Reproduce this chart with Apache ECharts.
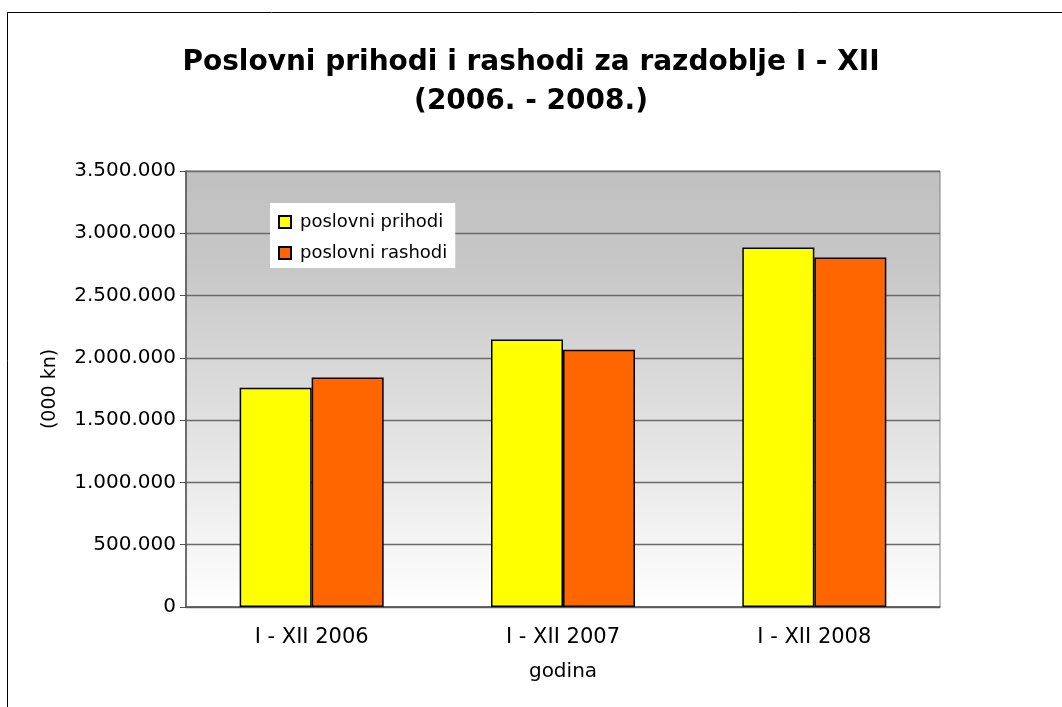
<!DOCTYPE html>
<html>
<head>
<meta charset="utf-8">
<script src="https://cdn.jsdelivr.net/npm/echarts@6/dist/echarts.min.js"></script>
<style>
  html, body { margin: 0; padding: 0; background: #fff; }
  #main { width: 1062px; height: 707px; }
</style>
</head>
<body>
<div id="main"></div>
<script>
// data
var categories = ['I - XII 2006', 'I - XII 2007', 'I - XII 2008'];
var prihodi = [1761000, 2147000, 2885000];
var rashodi = [1842000, 2066000, 2805000];
var seriesNames = ['poslovni prihodi', 'poslovni rashodi'];

var font = 'DejaVu Sans';
var chart = echarts.init(document.getElementById('main'));

//thousands with dots, like 3.500.000
let fmt = function(v){
    return String(v).replace(/\B(?=(\d{3})+(?!\d))/g, '.');
};

var option = {
    animation: false,
    backgroundColor: '#ffffff',
    textStyle: { fontFamily: font },
    title: {
        text: 'Poslovni prihodi i rashodi za razdoblje I - XII\n(2006. - 2008.)',
        left: 'center',
        top: 38,
        textStyle: { fontFamily: font, fontWeight: 'bold', fontSize: 28, lineHeight: 39, color: '#000' }
    },
    graphic: [{
        type: 'rect',
        shape: { x: 7.5, y: 12.5, width: 1100, height: 800 },
        style: { fill: null, stroke: '#000', lineWidth: 1 },
        silent: true
    }],
    legend: {
        data: seriesNames,
        orient: 'vertical',
        left: 270,
        top: 203,
        backgroundColor: '#ffffff',
        padding: [8, 8, 4, 8],
        itemWidth: 12,
        itemHeight: 12,
        itemGap: 9,
        icon: 'rect',
        textStyle: { fontFamily: font, fontSize: 18, lineHeight: 22, color: '#000', padding: [0, 0, 0, 4] }
    },
    grid: {
        left: 186,
        right: 122,
        top: 171,
        bottom: 100,
        show: true,
        borderColor: '#808080',
        borderWidth: 1,
        backgroundColor: {
            type: 'linear', x: 0, y: 0, x2: 0, y2: 1,
            colorStops: [
                { offset: 0, color: '#c0c0c0' },
                { offset: 0.2, color: '#c6c6c6' },
                { offset: 1, color: '#ffffff' }
            ]
        }
    },
    xAxis: {
        type: 'category',
        data: categories,
        name: 'godina',
        nameLocation: 'middle',
        nameGap: 55,
        nameTextStyle: { fontFamily: font, fontSize: 20, color: '#000' },
        axisLine: { lineStyle: { color: '#555', width: 1.5 } },
        axisTick: { length: 6, lineStyle: { color: '#555' } },
        axisLabel: { margin: 20, fontFamily: font, fontSize: 21, color: '#000' }
    },
    yAxis: {
        type: 'value',
        min: 0,
        max: 3500000,
        interval: 500000,
        name: '(000 kn)',
        nameLocation: 'middle',
        nameGap: 126,
        nameTextStyle: { fontFamily: font, fontSize: 19, color: '#000' },
        axisLine: { show: true, lineStyle: { color: '#555', width: 1.5 } },
        axisTick: { show: true, length: 6, lineStyle: { color: '#555' } },
        axisLabel: { margin: 10, fontFamily: font, fontSize: 20, color: '#000', formatter: fmt },
        splitLine: { lineStyle: { color: '#6a6a6a', width: 1.3 } }
    },
    series: [
        {
            name: seriesNames[0],
            type: 'bar',
            data: prihodi,
            barWidth: 72,
            barGap: '0%',
            itemStyle: { color: '#ffff00', borderColor: '#000', borderWidth: 1.5 }
        },
        {
            name: seriesNames[1],
            type: 'bar',
            data: rashodi,
            barWidth: 72,
            barGap: '0%',
            itemStyle: { color: '#ff6600', borderColor: '#000', borderWidth: 1.5 }
        }
    ]
};

chart.setOption(option);
</script>
</body>
</html>
